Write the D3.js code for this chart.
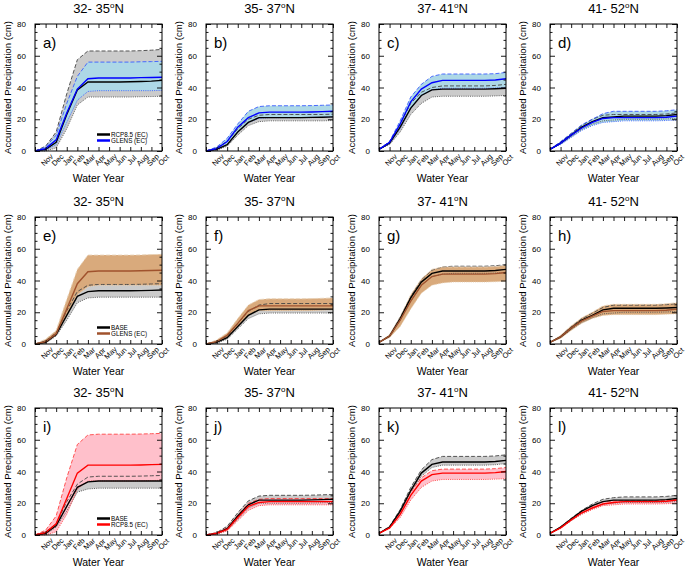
<!DOCTYPE html>
<html><head><meta charset="utf-8">
<script src="https://cdn.jsdelivr.net/npm/d3@7"></script>
<style>
html,body{margin:0;padding:0;background:#fff;}
text{font-family:"Liberation Sans",Arial,Helvetica,sans-serif;fill:#000;}
</style></head>
<body><svg id="chart" width="685" height="569"></svg>
<script>
// ---------------- DATA ----------------
const monthLabels = ["", "Nov", "Dec", "Jan", "Feb", "Mar", "Apr", "May", "Jun", "Jul", "Aug", "Sep", "Oct"];
const latBands = ["32- 35", "35- 37", "37- 41", "41- 52"];
const panelLetters = ["a)", "b)", "c)", "d)", "e)", "f)", "g)", "h)", "i)", "j)", "k)", "l)"];
const yTicks = [0, 20, 40, 60, 80];
const legendRow1 = ["RCP8.5 (EC)", "GLENS (EC)"];
const legendRow2 = ["BASE", "GLENS (EC)"];
const legendRow3 = ["BASE", "RCP8.5 (EC)"];

// panel a (RCP8.5 vs GLENS, 32-35N)
const aRefMean = [0, 1, 5.5, 23, 38.5, 43.5, 43.5, 43.5, 43.5, 43.6, 43.8, 44, 44.5];
const aRefHi   = [0, 3, 12, 36, 57.5, 63, 63, 63, 63, 63, 63.2, 63.5, 64];
const aRefLo   = [0, 0, 2, 14, 29, 34, 34, 34, 34, 34, 34.2, 34.3, 34.5];
const aExpMean = [0, 1.5, 7, 24, 39, 45.5, 46, 46, 46, 46, 46.2, 46.3, 46.5];
const aExpHi   = [0, 2.5, 10, 30, 47, 56, 56, 56, 56, 56, 56.2, 56.3, 56.5];
const aExpLo   = [0, 0.5, 4, 18, 32, 37.5, 38, 38, 38, 38, 38, 38, 38.2];
// panel b
const bRefMean = [0, 1, 4, 12, 18, 21, 21, 21, 21, 21, 21.2, 21.3, 21.5];
const bRefHi   = [0, 2, 6, 14, 20, 22.5, 23, 23, 23, 23, 23, 23, 23.2];
const bRefLo   = [0, 0.5, 3, 10, 16, 18.5, 19, 19, 19, 19, 19, 19, 19.2];
const bExpMean = [0, 1.5, 6, 15, 21, 24, 24.5, 24.5, 24.5, 24.5, 24.6, 24.8, 25];
const bExpHi   = [0, 2.5, 8, 17, 25, 28, 28.5, 28.5, 28.5, 28.5, 28.6, 28.8, 29];
const bExpLo   = [0, 1, 4, 12, 18, 20.5, 21, 21, 21, 21, 21, 21.2, 21.5];
// panel c
const cRefMean = [1, 5, 15, 27, 35, 38.5, 39, 39, 39, 39, 39, 39.2, 39.5];
const cRefHi   = [1, 6, 17, 30, 37, 40, 41, 41, 41, 41, 41, 41.3, 42];
const cRefLo   = [1, 4, 12, 23, 30, 34, 34.5, 34.5, 34.5, 34.5, 34.5, 34.7, 35];
const cExpMean = [1, 5.5, 17, 31, 39, 43, 44.5, 44.5, 44.5, 44.5, 44.5, 44.7, 45.5];
const cExpHi   = [1, 6, 19, 34, 42, 47, 48.5, 48.5, 48.5, 48.5, 48.5, 48.7, 49.5];
const cExpLo   = [1, 4.5, 14, 27, 35, 38.5, 39.5, 39.5, 39.5, 39.5, 39.5, 39.7, 40];
// panel d
const dRefMean = [1, 5, 10, 15, 18.5, 21, 21.5, 22, 22, 22, 22, 22.3, 23];
const dRefHi   = [1, 5.5, 11, 16, 20, 22.5, 23, 23, 23, 23, 23, 23.3, 24];
const dRefLo   = [1, 4.5, 9, 13.5, 17, 19, 19.5, 20, 20, 20, 20, 20.2, 20.5];
const dExpMean = [1, 5, 10, 14.5, 18, 20.5, 21, 21, 21, 21, 21, 21.3, 22];
const dExpHi   = [1, 6, 11, 16.5, 20, 23.5, 25, 25, 25, 25, 25, 25.3, 26];
const dExpLo   = [1, 4, 8.5, 13, 16, 18, 18.5, 19, 19, 19, 19, 19.2, 19.5];
// panel e (BASE vs GLENS)
const eRefMean = [0, 1, 6, 18, 30, 33, 33.5, 33.5, 33.5, 33.5, 33.6, 33.8, 34];
const eRefHi   = [0, 2, 7, 21, 33, 37, 37.5, 37.5, 37.5, 37.5, 37.6, 37.8, 38];
const eRefLo   = [0, 0.5, 5, 15, 26, 29, 29.5, 29.5, 29.5, 29.5, 29.5, 29.5, 29.5];
const eExpMean = [0, 1.5, 6.5, 22, 38, 45.5, 46, 46, 46, 46, 46.1, 46.3, 46.5];
const eExpHi   = [0, 3, 8.5, 28, 47, 56, 56, 56, 56, 56, 56.1, 56.3, 56.5];
const eExpLo   = [0, 0.5, 5.5, 18, 31, 36, 37, 37, 37, 37, 37, 37, 37];
// panel f
const fRefMean = [0, 1, 4, 11, 18, 21.5, 22, 22, 22, 22, 22, 22, 22];
const fRefHi   = [0, 1.5, 5, 13, 20.5, 24.5, 25.5, 25.5, 25.5, 25.5, 25.5, 25.5, 25.5];
const fRefLo   = [0, 0.5, 3, 9.5, 16, 19, 19.5, 19.5, 19.5, 19.5, 19.5, 19.5, 19.5];
const fExpMean = [0, 1.5, 5.5, 13, 21, 24, 24, 24, 24, 24, 24, 24, 24];
const fExpHi   = [0, 2.5, 7, 16, 24.5, 28, 28.5, 28.5, 28.5, 28.5, 28.6, 28.8, 29];
const fExpLo   = [0, 1, 4, 11, 18, 21, 21, 21, 21, 21, 21, 21.2, 21.5];
// panel g
const gRefMean = [1, 5, 16, 29, 39, 44.5, 46, 46, 46, 46, 46, 46.3, 47];
const gRefHi   = [1, 5.5, 17, 30, 40.5, 46.5, 48.5, 49, 49, 49, 49, 49.3, 50];
const gRefLo   = [1, 4.5, 15, 27, 37, 42.5, 44, 44.5, 44.5, 44.5, 44.5, 44.7, 45];
const gExpMean = [1, 5, 15, 27, 37, 42.5, 44, 44, 44, 44, 44, 44.3, 45];
const gExpHi   = [1, 6, 17, 31, 41, 47, 48.5, 48.5, 48.5, 48.5, 48.5, 48.8, 49.5];
const gExpLo   = [1, 4, 11, 22, 32, 37, 38.5, 39, 39, 39, 39, 39.2, 39.5];
// panel h
const hRefMean = [1, 4.5, 10, 15, 18, 21.5, 22.5, 22.5, 22.5, 22.5, 22.5, 22.7, 23];
const hRefHi   = [1, 5, 11, 16, 19.5, 23, 24.5, 24.5, 24.5, 24.5, 24.5, 24.8, 25.5];
const hRefLo   = [1, 4, 9, 13.5, 16.5, 19, 19.5, 20, 20, 20, 20, 20.2, 20.5];
const hExpMean = [1, 4.5, 10, 14.5, 17.5, 20.5, 21, 21, 21, 21, 21, 21.3, 22];
const hExpHi   = [1, 5.5, 11.5, 16.5, 20, 24, 25, 25, 25, 25, 25, 25.3, 26];
const hExpLo   = [1, 3.5, 8.5, 13, 16, 18, 18.5, 18.5, 18.5, 18.5, 18.5, 18.7, 19];
// panel i (BASE vs RCP8.5)
const iRefMean = [0, 1, 6, 18, 30, 33.5, 34, 34, 34, 34, 34, 34, 34];
const iRefHi   = [0, 2, 7, 21, 32, 36.5, 37, 37, 37, 37, 37.1, 37.3, 37.5];
const iRefLo   = [0, 0.5, 5, 15, 27, 29, 29.5, 29.5, 29.5, 29.5, 29.5, 29.5, 29.5];
const iExpMean = [0, 1.5, 7, 23, 39, 44, 44, 44, 44, 44, 44.1, 44.3, 44.5];
const iExpHi   = [0, 3, 12, 36, 57, 63, 63.5, 63.5, 63.5, 63.5, 63.6, 63.8, 64];
const iExpLo   = [0, 0, 2, 13, 29, 34, 34, 34, 34, 34, 34.1, 34.3, 34.5];
// panel j
const jRefMean = [0, 1, 4, 12, 19, 22, 22, 22, 22, 22, 22.1, 22.3, 22.5];
const jRefHi   = [0, 1.5, 5.5, 14, 21.5, 24.5, 25, 25, 25, 25, 25.1, 25.3, 25.5];
const jRefLo   = [0, 0.5, 3, 10, 17, 20, 20, 20, 20, 20, 20.1, 20.3, 20.5];
const jExpMean = [0, 1, 3.5, 11, 18, 20.5, 21, 21, 21, 21, 21, 21, 21];
const jExpHi   = [0, 1.5, 4.5, 12.5, 20, 22.5, 23, 23, 23, 23, 23, 23, 23];
const jExpLo   = [0, 0.5, 2.5, 9, 15.5, 18.5, 19, 19, 19, 19, 19, 19, 19];
// panel k
const kRefMean = [1, 5, 15, 28, 39, 44.5, 46, 46, 46, 46, 46, 46.3, 47];
const kRefHi   = [1, 5.5, 16, 30, 41, 47.5, 49.5, 49.5, 49.5, 49.5, 49.5, 49.8, 50.5];
const kRefLo   = [1, 4.5, 14, 27, 37, 42.5, 44, 44, 44, 44, 44, 44.3, 45];
const kExpMean = [1, 4.5, 13, 25, 34, 38, 39, 39, 39, 39, 39, 39.3, 40];
const kExpHi   = [1, 5, 14.5, 27, 36, 40.5, 41.5, 41.5, 41.5, 41.5, 41.5, 41.8, 42.5];
const kExpLo   = [1, 4, 11, 22, 30, 34, 35, 35, 35, 35, 35, 35.2, 35.5];
// panel l
const lRefMean = [1, 5, 10, 15, 18.5, 21, 22, 22, 22, 22, 22, 22.3, 23];
const lRefHi   = [1, 5, 10.5, 15.5, 19.5, 22.5, 23.5, 24, 24, 24, 24, 24.3, 25];
const lRefLo   = [1, 4.5, 9, 13.5, 17, 19.5, 20, 20.5, 20.5, 20.5, 20.5, 20.7, 21];
const lExpMean = [1, 4.5, 9.5, 14, 17, 19.5, 20.5, 21, 21, 21, 21, 21.3, 22];
const lExpHi   = [1, 5, 10, 15, 18, 21, 21.5, 21.5, 21.5, 21.5, 21.5, 21.8, 22.5];
const lExpLo   = [1, 4, 9, 13, 16, 18.5, 19, 19.5, 19.5, 19.5, 19.5, 19.7, 20];

// ---------------- LAYOUT / STYLE ----------------
const colLeft = [35, 206, 379, 550];
const rowTop = [24, 217, 408];
const PW = 127, PH = 127;
const rowStyles = [
  {line: "#0000ff", fill: "#add8e6", edge: "#3a5cff", legend: legendRow1},
  {line: "#a0522d", fill: "#d9aa7c", edge: "#e8d2b8", legend: legendRow2},
  {line: "#ff0000", fill: "#ffc0cb", edge: "#ff4444", legend: legendRow3}
];
const panels = [
  [aRefMean,aRefHi,aRefLo,aExpMean,aExpHi,aExpLo],
  [bRefMean,bRefHi,bRefLo,bExpMean,bExpHi,bExpLo],
  [cRefMean,cRefHi,cRefLo,cExpMean,cExpHi,cExpLo],
  [dRefMean,dRefHi,dRefLo,dExpMean,dExpHi,dExpLo],
  [eRefMean,eRefHi,eRefLo,eExpMean,eExpHi,eExpLo],
  [fRefMean,fRefHi,fRefLo,fExpMean,fExpHi,fExpLo],
  [gRefMean,gRefHi,gRefLo,gExpMean,gExpHi,gExpLo],
  [hRefMean,hRefHi,hRefLo,hExpMean,hExpHi,hExpLo],
  [iRefMean,iRefHi,iRefLo,iExpMean,iExpHi,iExpLo],
  [jRefMean,jRefHi,jRefLo,jExpMean,jExpHi,jExpLo],
  [kRefMean,kRefHi,kRefLo,kExpMean,kExpHi,kExpLo],
  [lRefMean,lRefHi,lRefLo,lExpMean,lExpHi,lExpLo]
];

const svg = d3.select("#chart");
const x = d3.scaleLinear().domain([0, 12]).range([0, PW]);
const y = d3.scaleLinear().domain([0, 80]).range([PH, 0]);
const idx = d3.range(13);
const minorY = d3.range(0, 81, 5).filter(v => v % 20 !== 0);

panels.forEach((p, k) => {
  const r = Math.floor(k / 4), c = k % 4;
  const st = rowStyles[r];
  const g = svg.append("g").attr("transform", `translate(${colLeft[c]},${rowTop[r]})`);
  const [rm, rh, rl, em, eh, el] = p;
  const area = (hi, lo) => d3.area().x(i => x(i)).y0(i => y(lo[i])).y1(i => y(hi[i]))(idx);
  const line = arr => d3.line().x(i => x(i)).y(i => y(arr[i]))(idx);

  g.append("path").attr("d", area(rh, rl)).attr("fill", "#cbcbcb");
  g.append("path").attr("d", area(eh, el)).attr("fill", st.fill);
  g.append("path").attr("d", line(rh)).attr("fill", "none").attr("stroke", "#444").attr("stroke-width", 0.9).attr("stroke-dasharray", "4,2");
  g.append("path").attr("d", line(rl)).attr("fill", "none").attr("stroke", "#555").attr("stroke-width", 0.9).attr("stroke-dasharray", "1,1.2");
  g.append("path").attr("d", line(eh)).attr("fill", "none").attr("stroke", st.edge).attr("stroke-width", 0.9).attr("stroke-dasharray", "4,2");
  g.append("path").attr("d", line(el)).attr("fill", "none").attr("stroke", st.edge).attr("stroke-width", 0.9).attr("stroke-dasharray", "1,1.2");
  g.append("path").attr("d", line(rm)).attr("fill", "none").attr("stroke", "#000").attr("stroke-width", 1.4);
  g.append("path").attr("d", line(em)).attr("fill", "none").attr("stroke", st.line).attr("stroke-width", 1.4);

  // axes (inward ticks)
  const yl = g.append("g").call(d3.axisLeft(y).tickValues(yTicks).tickSize(-5).tickPadding(9));
  g.append("g").call(d3.axisLeft(y).tickValues(minorY).tickSize(-2.5).tickFormat(""));
  g.append("g").attr("transform", `translate(${PW},0)`).call(d3.axisRight(y).tickValues(yTicks).tickSize(-5).tickFormat(""));
  g.append("g").attr("transform", `translate(${PW},0)`).call(d3.axisRight(y).tickValues(minorY).tickSize(-2.5).tickFormat(""));
  g.append("g").attr("transform", `translate(0,${PH})`).call(d3.axisBottom(x).tickValues(idx).tickSize(-4).tickFormat(""));
  g.append("g").call(d3.axisTop(x).tickValues(idx).tickSize(-4).tickFormat(""));
  g.selectAll(".domain").remove();
  g.selectAll(".tick line").attr("stroke", "#000").attr("stroke-width", 0.9);
  yl.selectAll("text").attr("font-size", 8).attr("font-family", "Liberation Sans, Arial, sans-serif");
  g.append("rect").attr("width", PW).attr("height", PH).attr("fill", "none").attr("stroke", "#000").attr("stroke-width", 1);

  // month labels
  g.selectAll("text.mon").data(idx.filter(i => monthLabels[i] !== "")).enter().append("text")
    .attr("class", "mon")
    .attr("transform", i => `translate(${x(i) + 1.5},${PH + 9}) rotate(-45)`)
    .attr("text-anchor", "middle").attr("dominant-baseline", "central")
    .attr("font-size", 7.5).text(i => monthLabels[i]);

  // panel letter
  g.append("text").attr("x", 8).attr("y", 24).attr("font-size", 15).text(panelLetters[k]);

  // titles
  const t = g.append("text").attr("x", PW / 2).attr("y", -11).attr("text-anchor", "middle").attr("font-size", 13);
  t.append("tspan").text(latBands[c]);
  t.append("tspan").attr("font-size", 8).attr("dy", -5).text("o");
  t.append("tspan").attr("dy", 5).text("N");

  g.append("text").attr("x", PW / 2).attr("y", PH + 31).attr("text-anchor", "middle").attr("font-size", 10.5).text("Water Year");
  g.append("text").attr("transform", `translate(-28,${PH / 2}) rotate(-90)`).attr("text-anchor", "middle")
    .attr("dominant-baseline", "central").attr("font-size", 9.6).text("Accumulated Precipitation (cm)");

  // legend in first column
  if (c === 0) {
    const lg = g.append("g").attr("transform", "translate(62,110.5)");
    [["#000", st.legend[0]], [st.line, st.legend[1]]].forEach((d, j) => {
      lg.append("line").attr("x1", 0).attr("x2", 13).attr("y1", j * 6).attr("y2", j * 6).attr("stroke", d[0]).attr("stroke-width", 2.5);
      lg.append("text").attr("x", 14).attr("y", j * 6).attr("dominant-baseline", "central").attr("font-size", 6.3).text(d[1]);
    });
  }
});
</script></body></html>
